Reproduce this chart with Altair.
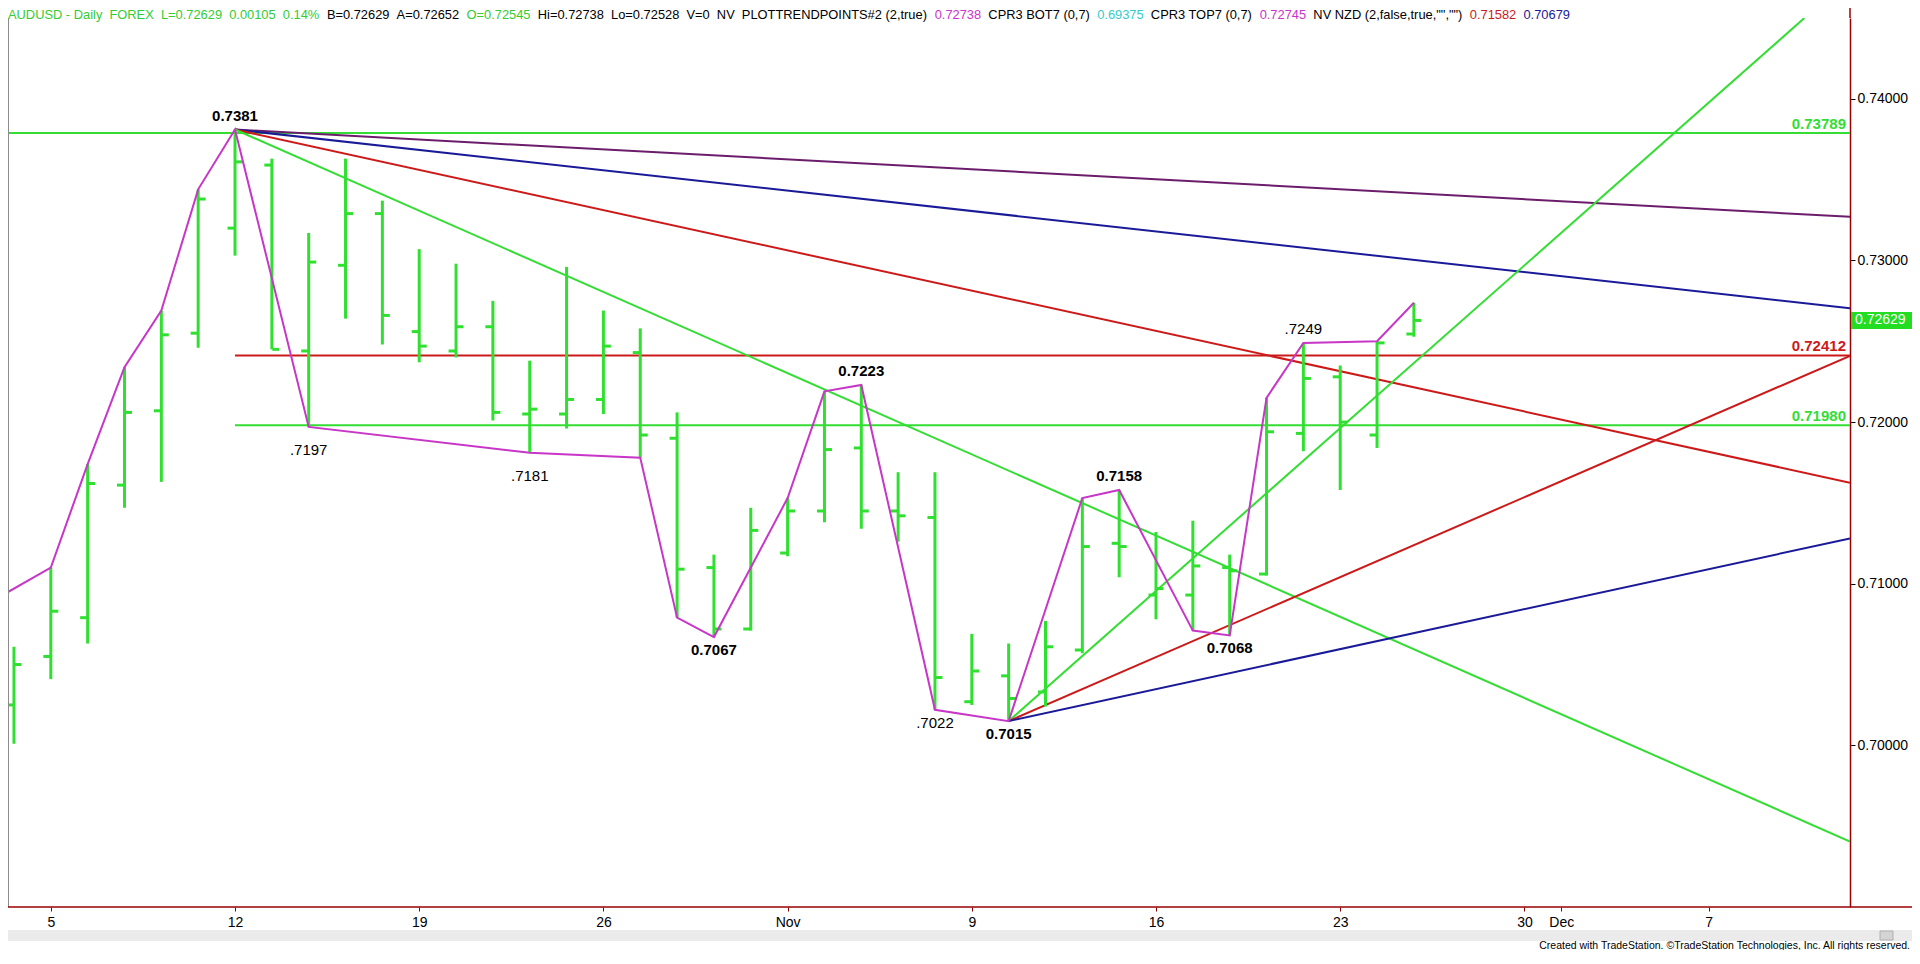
import altair as alt
import pandas as pd

# ---------------- data ----------------
bar_idx = list(range(-1, 38))  # trading-day index, 0 = Mon 5 Oct 2015
bar_open = [0.7025, 0.7055, 0.7079, 0.7161, 0.7207, 0.7255, 0.7320, 0.7359, 0.7244, 0.7297,
            0.7329, 0.7256, 0.7244, 0.7259, 0.7205, 0.7205, 0.7214, 0.7243, 0.7190, 0.7110,
            0.7072, 0.7119, 0.7145, 0.7184, 0.7145, 0.7141, 0.7027, 0.7043, 0.7033, 0.7059,
            0.7125, 0.7093, 0.7093, 0.7110, 0.7106, 0.7193, 0.7228, 0.7192, 0.72545]
bar_high = [0.7061, 0.7110, 0.7174, 0.7234, 0.7269, 0.7344, 0.7381, 0.7363, 0.7317, 0.7363,
            0.7337, 0.7307, 0.7298, 0.7275, 0.7238, 0.7296, 0.7269, 0.7258, 0.7206, 0.7118,
            0.7147, 0.7153, 0.7219, 0.7223, 0.7169, 0.7169, 0.7069, 0.7063, 0.7077, 0.7153,
            0.7158, 0.7132, 0.7139, 0.7118, 0.7215, 0.7249, 0.7235, 0.7250, 0.72738]
bar_low = [0.7001, 0.7041, 0.7063, 0.7147, 0.7163, 0.7246, 0.7303, 0.7245, 0.7197, 0.7264,
           0.7248, 0.7237, 0.7240, 0.7201, 0.7181, 0.7196, 0.7205, 0.7178, 0.7079, 0.7067,
           0.7071, 0.7117, 0.7138, 0.7134, 0.7126, 0.7022, 0.7025, 0.7015, 0.7024, 0.7057,
           0.7104, 0.7078, 0.7071, 0.7068, 0.7105, 0.7182, 0.7158, 0.7184, 0.72528]
bar_close = [0.7050, 0.7083, 0.7162, 0.7206, 0.7254, 0.7338, 0.7361, 0.7245, 0.7299, 0.7329,
             0.7266, 0.7247, 0.7259, 0.7206, 0.7208, 0.7214, 0.7247, 0.7192, 0.7109, 0.7072,
             0.7133, 0.7145, 0.7183, 0.7145, 0.7142, 0.7042, 0.7046, 0.7029, 0.7061, 0.7123,
             0.7123, 0.7097, 0.7111, 0.7108, 0.7194, 0.7227, 0.7200, 0.7249, 0.72629]

swing_idx = [-2, 0, 1, 2, 3, 4, 5, 7, 13, 16, 17, 18, 20, 21, 22, 24, 26, 28, 29, 31, 32,
             33, 34, 36, 37]
swing_price = [0.7084, 0.7110, 0.7174, 0.7234, 0.7269, 0.7344, 0.7381, 0.7197, 0.7181, 0.7178,
               0.7079, 0.7067, 0.7153, 0.7219, 0.7223, 0.7022, 0.7015, 0.7153, 0.7158, 0.7071,
               0.7068, 0.7215, 0.7249, 0.7250, 0.72738]

lab_text = ["0.7381", ".7197", ".7181", "0.7067", "0.7223", ".7022", "0.7015", "0.7158", "0.7068", ".7249"]
lab_idx = [5, 7, 13, 18, 22, 24, 26, 29, 32, 34]
lab_price = [0.7381, 0.7197, 0.7181, 0.7067, 0.7223, 0.7022, 0.7015, 0.7158, 0.7068, 0.7249]
lab_kind = ["high", "lowfar", "lowfar", "low", "high", "low", "low", "high", "low", "high"]

trend_x0 = [5, 5, 5, 5, 26, 26, 26]
trend_p0 = [0.7381, 0.7381, 0.7381, 0.7381, 0.7015, 0.7015, 0.7015]
trend_x1 = [48.838, 48.838, 48.838, 48.838, 47.6, 48.838, 48.838]
trend_p1 = [0.7327, 0.72705, 0.71625, 0.69405, 0.7450, 0.7241, 0.7128]
trend_col = ["#6b1d6b", "#1a1a99", "#cc1a1a", "#33dd33", "#33dd33", "#cc1a1a", "#1a1a99"]

level_price = [0.73789, 0.72412, 0.71980]
level_x0 = [-1.162, 5, 5]
level_x1 = [48.838, 48.838, 48.838]
level_col = ["#33dd33", "#cc1a1a", "#33dd33"]

xtick_idx = [0, 5, 10, 15, 20, 25, 30, 35, 40, 41, 45]
xtick_lbl = ["5", "12", "19", "26", "Nov", "9", "16", "23", "30", "Dec", "7"]
ytick_vals = [0.70, 0.71, 0.72, 0.73, 0.74]

NB2 = "\u00a0\u00a0"
header_text = ["AUDUSD - Daily" + NB2 + "FOREX" + NB2 + "L=0.72629" + NB2 + "0.00105" + NB2 + "0.14%",
               "B=0.72629" + NB2 + "A=0.72652",
               "O=0.72545",
               "Hi=0.72738" + NB2 + "Lo=0.72528" + NB2 + "V=0" + NB2 + "NV" + NB2 + "PLOTTRENDPOINTS#2 (2,true)",
               "0.72738",
               "CPR3 BOT7 (0,7)",
               "0.69375",
               "CPR3 TOP7 (0,7)",
               "0.72745",
               'NV NZD (2,false,true,"","")',
               "0.71582",
               "0.70679"]
header_col = ["#33cc33", "#000000", "#33cc33", "#000000", "#cc33cc", "#000000", "#33cccc",
              "#000000", "#cc33cc", "#000000", "#cc1a1a", "#1a1a99"]
footer = "Created with TradeStation. \u00a9TradeStation Technologies, Inc. All rights reserved."

# ---------------- layout constants ----------------
W, H = 1842, 889
PAD = {"left": 0, "top": 10, "right": 62, "bottom": 43}
X_DOM = [-1.162, 48.838]
Y_DOM = [0.69, 0.745]
GREEN = "#30e030"
MAGENTA = "#c836c8"
FONT = "Liberation Sans"

# Arial / Liberation Sans advance widths (1/1000 em) used to lay the header segments out in a row
ADV = {" ": 278, "\u00a0": 278, '"': 355, "#": 556, "%": 889, "(": 333, ")": 333, ",": 278,
       "-": 333, ".": 278, "=": 584, "A": 667, "B": 667, "C": 722, "D": 722, "E": 667, "F": 611,
       "H": 722, "I": 278, "L": 556, "N": 722, "O": 778, "P": 667, "R": 722, "S": 667, "T": 611,
       "U": 722, "V": 667, "X": 667, "Z": 611, "a": 556, "e": 556, "f": 278, "i": 222, "l": 222,
       "o": 556, "r": 333, "s": 500, "t": 278, "u": 556, "y": 500}


def units(s):
    return sum(ADV.get(ch, 556) for ch in s)


HEAD_SPAN = 1562
gap_units = units(NB2)
total_units = sum(units(s) for s in header_text) + gap_units * (len(header_text) - 1)
HEAD_FS = HEAD_SPAN / total_units * 1000
head_x = []
cur = 0.0
for s in header_text:
    head_x.append(cur)
    cur += (units(s) + gap_units) * HEAD_FS / 1000

xs = alt.Scale(domain=X_DOM, nice=False, zero=False)
ys = alt.Scale(domain=Y_DOM, nice=False, zero=False)

bars = pd.DataFrame({"i": bar_idx, "o": bar_open, "h": bar_high, "l": bar_low, "c": bar_close})
swings = pd.DataFrame({"i": swing_idx, "p": swing_price})
labels = pd.DataFrame({"t": lab_text, "i": lab_idx, "p": lab_price, "kind": lab_kind})
trends = pd.DataFrame({"x0": trend_x0, "p0": trend_p0, "x1": trend_x1, "p1": trend_p1, "col": trend_col})
levels = pd.DataFrame({"p": level_price, "x0": level_x0, "x1": level_x1, "col": level_col,
                       "t": [f"{p:.5f}" for p in level_price]})
last = pd.DataFrame({"p": [bar_close[-1]], "t": [f"{bar_close[-1]:.5f}"]})
dummy = pd.DataFrame({"d": [0]})

label_expr = "".join(f"datum.value == {i} ? '{l}' : " for i, l in zip(xtick_idx, xtick_lbl)) + "''"

x_axis = alt.Axis(values=xtick_idx, labelExpr=label_expr, domain=False, grid=False,
                  tickSize=4, tickColor="#8b0000", tickWidth=1, labelFont=FONT, labelFontSize=14,
                  labelColor="black", labelPadding=4, labelOverlap=False, labelFlush=False,
                  labelBound=False, title=None)
y_axis = alt.Axis(orient="right", values=ytick_vals, format=".5f", domainColor="#990000",
                  domainWidth=1.5, tickColor="black", tickSize=5, grid=False, labelFont=FONT,
                  labelFontSize=14, labelColor="black", labelPadding=2, title=None,
                  labelOverlap=False, labelFlush=False, labelBound=False)


def X(f):
    return alt.X(f, scale=xs, axis=x_axis)


def Y(f):
    return alt.Y(f, scale=ys, axis=y_axis)


# ---------------- layers ----------------
level_rules = alt.Chart(levels).mark_rule(strokeWidth=2).encode(
    x=X("x0:Q"), x2="x1:Q", y=Y("p:Q"), color=alt.Color("col:N", scale=None))

trend_rules = alt.Chart(trends).mark_rule(strokeWidth=2, clip=True).encode(
    x=X("x0:Q"), x2="x1:Q", y=Y("p0:Q"), y2="p1:Q", color=alt.Color("col:N", scale=None))

hl = alt.Chart(bars).mark_rule(color=GREEN, strokeWidth=3).encode(
    x=X("i:Q"), y=Y("l:Q"), y2="h:Q")
op = alt.Chart(bars).mark_tick(color=GREEN, orient="horizontal", size=7, thickness=3,
                               xOffset=-4, opacity=1).encode(x=X("i:Q"), y=Y("o:Q"))
cl = alt.Chart(bars).mark_tick(color=GREEN, orient="horizontal", size=7, thickness=3,
                               xOffset=4, opacity=1).encode(x=X("i:Q"), y=Y("c:Q"))

swing_line = alt.Chart(swings).mark_line(color=MAGENTA, strokeWidth=2, clip=True).encode(
    x=X("i:Q"), y=Y("p:Q"), order="i:Q")


def lab_layer(kind, dy, bold):
    cond = "indexof(datum.t, '0.') == 0" if bold else "indexof(datum.t, '0.') != 0"
    return alt.Chart(labels).transform_filter(f"datum.kind == '{kind}' && {cond}").mark_text(
        font=FONT, fontSize=15, fontWeight="bold" if bold else "normal", color="black",
        dy=dy, align="center", baseline="middle").encode(x=X("i:Q"), y=Y("p:Q"), text="t:N")


lab_layers = [lab_layer(k, d, b) for k, d in [("high", -14), ("low", 13), ("lowfar", 23)]
              for b in (True, False)]

level_text = alt.Chart(levels).mark_text(font=FONT, fontSize=15, fontWeight="bold", align="right",
                                         baseline="bottom", dy=-1).encode(
    x=alt.value(W - 4), y=Y("p:Q"), text="t:N", color=alt.Color("col:N", scale=None))

tag_box = alt.Chart(last).mark_rule(color="#22dd22", strokeWidth=17).encode(
    x=alt.value(W + 1), x2=alt.value(W + 62), y=Y("p:Q"))
tag_text = alt.Chart(last).mark_text(font=FONT, fontSize=14, color="white", align="left",
                                     baseline="middle").encode(
    x=alt.value(W + 5), y=Y("p:Q"), text="t:N")

left_border = alt.Chart(dummy).mark_rule(color="#8c8c8c", strokeWidth=2).encode(
    x=alt.value(0), y=alt.value(0), y2=alt.value(H))
bottom_line = alt.Chart(dummy).mark_rule(color="#990000", strokeWidth=1.5).encode(
    x=alt.value(0), x2=alt.value(W + 62), y=alt.value(H))
right_top = alt.Chart(dummy).mark_rule(color="#990000", strokeWidth=1.5).encode(
    x=alt.value(W), y=alt.value(-10), y2=alt.value(0))
scroll_band = alt.Chart(dummy).mark_rect(color="#ebebeb").encode(
    x=alt.value(0), x2=alt.value(W + 62), y=alt.value(H + 23), y2=alt.value(H + 34))
scroll_btn = alt.Chart(dummy).mark_rect(color="#d4d4d4", stroke="#b0b0b0").encode(
    x=alt.value(W + 30), x2=alt.value(W + 43), y=alt.value(H + 24), y2=alt.value(H + 33))
foot = alt.Chart(dummy).mark_text(font=FONT, fontSize=10.5, color="black", align="right",
                                  baseline="alphabetic").encode(
    x=alt.value(W + 60), y=alt.value(H + 42), text=alt.value(footer))

head_layers = [
    alt.Chart(dummy).mark_text(font=FONT, fontSize=HEAD_FS, color=c, align="left",
                               baseline="top").encode(
        x=alt.value(x), y=alt.value(-9), text=alt.value(t))
    for t, c, x in zip(header_text, header_col, head_x)
]

chart = alt.layer(
    level_rules, trend_rules, hl, op, cl, swing_line, *lab_layers, level_text,
    tag_box, tag_text, left_border, bottom_line, right_top, scroll_band, scroll_btn, foot,
    *head_layers
).properties(
    width=W, height=H, padding=PAD, autosize=alt.AutoSizeParams(type="none"),
    background="white"
).configure_view(stroke=None)

chart.save("out.html", embed_options={"renderer": "svg", "actions": False})
